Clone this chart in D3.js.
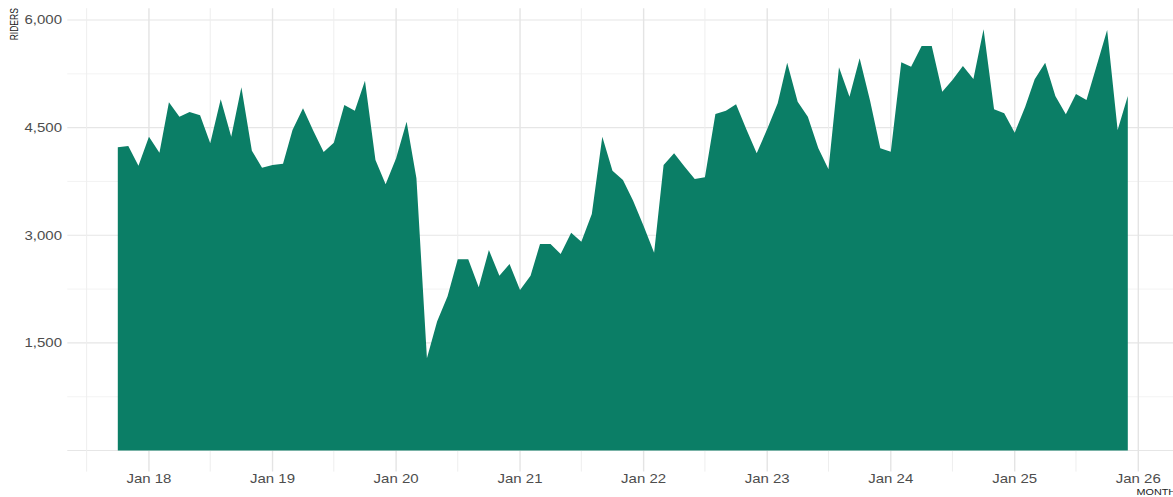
<!DOCTYPE html>
<html>
<head>
<meta charset="utf-8">
<script src="https://cdn.jsdelivr.net/npm/d3@7"></script>
<style>
  html, body { margin: 0; padding: 0; background: #ffffff; }
  svg { display: block; }
</style>
</head>
<body>
<svg id="chart" width="1173" height="497"></svg>
<script>
// ---- data (monthly riders, Oct 2017 – Dec 2025) ----
const startMonth = "2017-10";
const riders = [
  4226, 4244, 3970,                                                         // 2017 Oct-Dec
  4374, 4151, 4853, 4653, 4718, 4672, 4281, 4895, 4374, 5062, 4179, 3942,   // 2018
  3979, 3997, 4467, 4769, 4460, 4160, 4290, 4815, 4736, 5154, 4049, 3710,   // 2019
  4072, 4583, 3794, 1285, 1800, 2150, 2665, 2665, 2274, 2794, 2436, 2599,   // 2020
  2237, 2436, 2878, 2878, 2739, 3036, 2911, 3296, 4374, 3900, 3770, 3480,   // 2021
  3130, 2757, 3979, 4142, 3963, 3784, 3807, 4690, 4736, 4825, 4470, 4142,   // 2022
  4480, 4839, 5405, 4862, 4653, 4212, 3919, 5341, 4931, 5466, 4870, 4212,   // 2023
  4165, 5410, 5349, 5638, 5638, 5000, 5164, 5359, 5178, 5871, 4755, 4700,   // 2024
  4430, 4790, 5173, 5405, 4941, 4686, 4969, 4885, 5380, 5861, 4467, 4941    // 2025
];
const yTicks = [1500, 3000, 4500, 6000];
const yMinorTicks = [0, 750, 2250, 3750, 5250];
const xTickYears = [2018, 2019, 2020, 2021, 2022, 2023, 2024, 2025, 2026];
const xMinorYears = [2017, 2018, 2019, 2020, 2021, 2022, 2023, 2024, 2025];
const yTitle = "RIDERS";
const xTitle = "MONTH";

// ---- build data table ----
const parseMonth = d3.timeParse("%Y-%m");
const t0 = parseMonth(startMonth);
const data = riders.map((v, i) => ({ date: d3.timeMonth.offset(t0, i), value: v }));

// ---- layout ----
const panel = { left: 67.3, right: 1178.3, top: 8.2, bottom: 471.6 };
const stretch = 1.2;
const fill = "#0b7e66";

const svg = d3.select("#chart");

const xExt = d3.extent(data, d => d.date);
const xSpan = xExt[1] - xExt[0];
const x = d3.scaleTime()
  .domain([new Date(+xExt[0] - 0.05 * xSpan), new Date(+xExt[1] + 0.05 * xSpan)])
  .range([panel.left, panel.right]);

const yMax = d3.max(data, d => d.value);
const y = d3.scaleLinear()
  .domain([-0.05 * yMax, yMax * 1.05])
  .range([panel.bottom, panel.top]);

// ---- grid ----
const grid = svg.append("g");
grid.selectAll("line.hmin").data(yMinorTicks.filter(v => v !== 0)).join("line")
  .attr("x1", panel.left).attr("x2", panel.right + 10)
  .attr("y1", d => y(d)).attr("y2", d => y(d))
  .attr("stroke", "#f0f0f0").attr("stroke-width", 0.8);
grid.selectAll("line.hmaj").data([0].concat(yTicks)).join("line")
  .attr("x1", panel.left).attr("x2", panel.right + 10)
  .attr("y1", d => y(d)).attr("y2", d => y(d))
  .attr("stroke", "#e6e6e6").attr("stroke-width", 1.1);
grid.selectAll("line.vmin").data(xMinorYears.map(yr => new Date(yr, 6, 1))).join("line")
  .attr("x1", d => x(d)).attr("x2", d => x(d))
  .attr("y1", panel.top).attr("y2", panel.bottom)
  .attr("stroke", "#eeeeee").attr("stroke-width", 1.0);
grid.selectAll("line.vmaj").data(xTickYears.map(yr => new Date(yr, 0, 1))).join("line")
  .attr("x1", d => x(d)).attr("x2", d => x(d))
  .attr("y1", panel.top).attr("y2", panel.bottom)
  .attr("stroke", "#e4e4e4").attr("stroke-width", 1.4);

// ---- area ----
const area = d3.area()
  .x(d => x(d.date))
  .y0(y(0))
  .y1(d => y(d.value));
svg.append("path").datum(data)
  .attr("d", area)
  .attr("fill", fill);

// ---- axes text ----
const fmtY = d3.format(",");
const fmtX = d3.timeFormat("%b %y");
const font = "'Liberation Sans', Arial, sans-serif";

svg.append("g").selectAll("text").data(yTicks).join("text")
  .attr("transform", d => `translate(62,${y(d) + 4.4}) scale(${stretch},1)`)
  .attr("text-anchor", "end")
  .attr("font-family", font).attr("font-size", 12.5)
  .attr("fill", "#4d4d4d")
  .text(d => fmtY(d));

svg.append("g").selectAll("text").data(xTickYears.map(yr => new Date(yr, 0, 1))).join("text")
  .attr("transform", d => `translate(${x(d)},482.5) scale(${stretch},1)`)
  .attr("text-anchor", "middle")
  .attr("font-family", font).attr("font-size", 12.5)
  .attr("fill", "#4d4d4d")
  .text(d => fmtX(d));

// axis titles
svg.append("text")
  .attr("transform", `translate(17.5,${panel.top}) scale(${stretch},1) rotate(-90)`)
  .attr("text-anchor", "end")
  .attr("font-family", font).attr("font-size", 8.5)
  .attr("fill", "#222")
  .text(yTitle);

svg.append("text")
  .attr("transform", `translate(1136.5,494.5) scale(${stretch},1)`)
  .attr("text-anchor", "start")
  .attr("font-family", font).attr("font-size", 9)
  .attr("fill", "#222")
  .text(xTitle);
</script>
</body>
</html>
